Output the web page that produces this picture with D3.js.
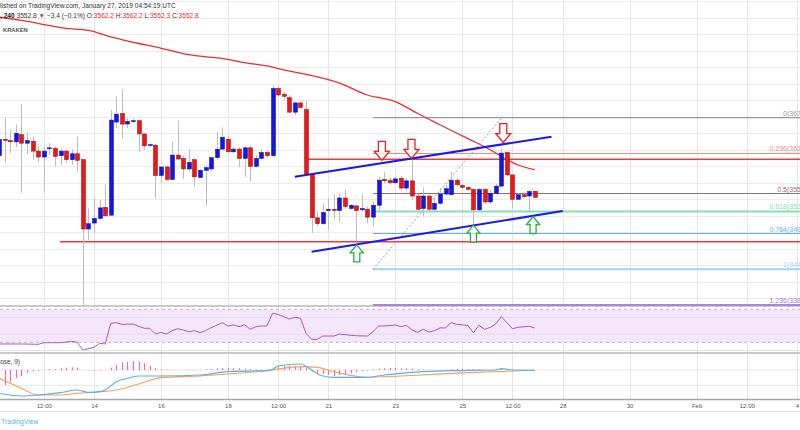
<!DOCTYPE html>
<html>
<head>
<meta charset="utf-8">
<script src="https://cdn.jsdelivr.net/npm/d3@7"></script>
<style>
  body { margin: 0; background: #fff; }
  svg { display: block; font-family: "Liberation Sans", Arial, sans-serif; }
</style>
</head>
<body>
<svg id="chart" width="800" height="430"></svg>
<script>
// 4h bars, first one on screen opens Jan 11 04:00 UTC
const barStart = Date.UTC(2019, 0, 11, 4);
const barStep = 4 * 3600 * 1000;

const opens = [3616,3641,3639,3637,3648,3635,3638,3623,3614,3627,
  3627,3616,3623,3610,3619,3610,3505,3514,3521,3538,
  3526,3667,3680,3664,3668,3669,3649,3632,3632,3586,
  3599,3580,3617,3612,3596,3610,3583,3594,3596,3613,
  3626,3641,3622,3626,3612,3628,3600,3612,3621,3616,
  3718,3709,3704,3682,3696,3686,3588,3522,3513,3533,
  3535,3533,3552,3536,3540,3534,3535,3523,3541,3580,
  3579,3575,3582,3567,3578,3555,3536,3555,3535,3544,
  3558,3557,3579,3571,3568,3565,3534,3565,3546,3559,
  3570,3621,3587,3550,3557,3555,3562.2];
const highs = [3646,3673,3656,3663,3694,3651,3645,3630,3630,3635,
  3630,3627,3626,3625,3645,3612,3536,3552,3549,3572,
  3685,3706,3717,3673,3672,3670,3649,3635,3634,3599,
  3601,3637,3669,3617,3626,3613,3596,3601,3614,3652,
  3659,3646,3629,3629,3631,3631,3617,3625,3625,3723,
  3722,3713,3708,3698,3698,3699,3588,3531,3544,3552,
  3557,3559,3565,3543,3541,3557,3539,3546,3584,3592,
  3582,3584,3585,3582,3611,3558,3568,3557,3553,3567,
  3572,3592,3582,3573,3570,3567,3567,3567,3564,3573,
  3627,3622,3588,3560,3561,3564,3562.2];
const lows = [3610,3606,3620,3629,3560,3619,3610,3607,3563,3617,
  3601,3602,3605,3602,3592,3380,3488,3499,3519,3524,
  3525,3658,3643,3658,3666,3622,3625,3629,3551,3575,
  3578,3579,3610,3581,3593,3570,3582,3540,3593,3610,
  3625,3620,3620,3599,3584,3577,3598,3610,3613,3614,
  3705,3701,3681,3678,3687,3587,3499,3509,3511,3504,
  3519,3515,3536,3534,3486,3531,3514,3509,3532,3574,
  3572,3573,3564,3564,3549,3529,3524,3532,3531,3542,
  3555,3555,3570,3566,3564,3511,3531,3543,3543,3557,
  3569,3585,3536,3549,3553,3531,3552.3];
const closes = [3641,3639,3637,3650,3635,3639,3623,3614,3623,3628,
  3615,3623,3610,3619,3609,3505,3513,3521,3537,3525,
  3670,3679,3664,3668,3669,3649,3631,3633,3586,3599,
  3580,3617,3611,3596,3606,3584,3594,3598,3613,3626,
  3644,3622,3626,3612,3628,3600,3612,3621,3616,3718,
  3708,3706,3682,3696,3689,3588,3522,3513,3530,3535,
  3533,3552,3539,3541,3533,3536,3523,3541,3579,3578,
  3575,3581,3567,3578,3555,3535,3555,3535,3544,3558,
  3566,3579,3572,3568,3565,3534,3565,3546,3559,3570,
  3620,3587,3550,3557,3554,3562,3552.8];

// red moving average, read at a few bars
const maIdx = [0, 4, 12, 16, 20, 25, 28, 34, 41, 44, 48, 51, 54, 61, 66, 71, 75, 79, 84, 88, 91, 93, 96];
const maVal = [3826, 3821, 3809, 3806, 3796, 3786, 3781, 3769, 3762, 3757, 3752, 3746, 3741, 3726, 3708, 3698, 3680, 3663, 3642, 3625, 3610, 3602, 3595];

// RSI (14)
const rsiIdx = [0, 4, 7, 8, 11, 13, 14, 15, 17, 18,
  19, 20, 21, 22, 24, 26, 27, 28, 29, 30,
  31, 32, 33, 34, 35, 36, 37, 38, 40, 41,
  42, 43, 44, 45, 46, 47, 48, 49, 50, 52,
  53, 54, 55, 56, 57, 58, 60, 61, 62, 64,
  66, 67, 68, 69, 71, 72, 73, 74, 75, 76,
  77, 78, 79, 80, 81, 82, 83, 84, 85, 86,
  87, 88, 89, 90, 91, 92, 93, 94, 95, 96];
const rsiVal = [28, 28, 27.6, 29.5, 29.5, 31.2, 30, 20.7, 24, 28.8,
  28, 53, 53.8, 51.8, 52.2, 47, 47, 40.1, 42.1, 40.1,
  44.1, 46.5, 44.9, 42.8, 44.1, 41.6, 44.1, 47.7, 53.8, 49.8,
  51, 48.9, 51.3, 45.8, 48.9, 49.8, 49.8, 65.2, 63.9, 58.2,
  60.3, 59.1, 40.9, 33.6, 33.6, 37.6, 37.6, 40.1, 39.2, 38,
  37.6, 42.8, 49.8, 49.8, 51, 48.9, 50.6, 45, 42.1, 45.8,
  42.5, 44, 47.5, 47.5, 53.8, 51.8, 51.2, 50.5, 41.6, 50.7,
  45.8, 48, 52.2, 61.1, 53.8, 46.5, 48.2, 48.8, 49.4, 47.3];

// MACD (12, 26, close, 9)
const macdIdx = [0, 4, 7, 11, 14, 16, 18, 19, 21, 23, 25, 29, 36, 41, 48, 49, 50, 54, 56, 58, 60, 66, 69, 72, 81, 89, 90, 92, 96];
const macdVal = [-35, -39, -37.5, -34, -30, -33.5, -32.5, -30, -17.5, -12.5, -9, -9, -7.5, -2.5, -1, 1, 6, 9, 0, -9, -11, -11, -7.5, -5, -1, 0, 2, 0, -0.5];
const signalIdx = [0, 4, 7, 11, 14, 18, 21, 25, 29, 36, 41, 48, 54, 57, 60, 66, 72, 84, 96];
const signalVal = [-12.5, -27.5, -37.5, -37.5, -35, -33, -30, -21, -11.5, -9, -6, -1, 5, 4, -2.5, -11, -9, -4, -0.5];
const histVal = [-24, -22.5, -17.5, -12.5, -9, -4, -2, -1, 0, 1.5,
  1.5, 2.5, 3.5, 4, 3.5, 0, -0.5, -1, -1, 0,
  3.5, 7.5, 11.5, 12.5, 13.5, 12.5, 10, 6, 2.5, 1,
  0.5, 0.5, 0, 0, 0.5, 0.5, 0.5, 1, 1.5, 2.5,
  3, 3, 2.5, 2.5, 2, 1.5, 1, 0.5, 0.5, 2.5,
  5, 6, 6.5, 6, 5, 3, -2.5, -4, -6, -7.5,
  -9, -7.5, -6, -5, -3, -1.5, -0.5, 1, 2, 2.5,
  3, 3, 2.5, 2.5, 2, 1.5, 1, 0.5, 0, 0.5,
  0.5, 1, 1.5, 1.5, 1.5, 1.5, 1, 0.5, 0, 0.5,
  1.5, 1.5, 1, 0.5, 0.5, 0, 0];

// time axis
const tickDates = ["2019-01-12T12:00:00Z", "2019-01-14T00:00:00Z", "2019-01-16T00:00:00Z", "2019-01-18T00:00:00Z",
  "2019-01-19T12:00:00Z", "2019-01-21T00:00:00Z", "2019-01-23T00:00:00Z", "2019-01-25T00:00:00Z",
  "2019-01-26T12:00:00Z", "2019-01-28T00:00:00Z", "2019-01-30T00:00:00Z", "2019-02-01T00:00:00Z",
  "2019-02-02T12:00:00Z", "2019-02-04T00:00:00Z"].map(s => new Date(s));
const tickLabels = ["12:00", "14", "16", "18", "12:00", "21", "23", "25", "12:00", "28", "30", "Feb", "12:00", "4"];

// drawings: fib retracement, horizontal levels, channel, arrows
const fibLevels = [0, 0.236, 0.5, 0.618, 0.764, 1, 1.236];
const fibHigh = 3673.6, fibLow = 3444.0;
const fibLowIdx = 67, fibHighIdx = 90.1;
const levelPrice = [3485.8, 3610.7];
const levelStartIdx = [10.9, 55.3];
const channelIdx = [[53, 99], [56, 101]];
const channelPrice = [[3584.3, 3644.9], [3470.6, 3532.3]];
const downArrowIdx = [68.6, 73.9, 90.35];
const downArrowPrice = [3609, 3612, 3636];
const upArrowIdx = [64.1, 85, 95.7];
const upArrowPrice = [3481, 3511, 3524];

const fibColors = ["#9a9a9a", "#ec8a8a", "#8c6f7c", "#86e0b8", "#62b0ea", "#a6d2f2", "#ad84dc"];

const svg = d3.select("#chart");

// scales
const x = d3.scaleUtc()
    .domain([new Date(Date.UTC(2019, 0, 14)), new Date(Date.UTC(2019, 1, 4))])
    .range([94, 797]);
const bx = i => x(new Date(barStart + i * barStep));
const y = d3.scaleLinear().domain([3388.4, 3851.9]).range([306, 0]);
const rsiY = d3.scaleLinear().domain([20.7, 72.8]).range([350, 307]);
const macdY = d3.scaleLinear().domain([-43.5, 25.5]).range([399, 353]);

const defs = svg.append("defs");
defs.append("clipPath").attr("id", "clipMain").append("rect").attr("x", 0).attr("y", 0).attr("width", 800).attr("height", 306);
defs.append("clipPath").attr("id", "clipRsi").append("rect").attr("x", 0).attr("y", 307).attr("width", 800).attr("height", 43);
defs.append("clipPath").attr("id", "clipMacd").append("rect").attr("x", 0).attr("y", 353).attr("width", 800).attr("height", 46);

// grid
const grid = svg.append("g");
grid.selectAll(".vg").data(tickDates).enter().append("line")
    .attr("x1", d => Math.round(x(d)) + 0.5).attr("x2", d => Math.round(x(d)) + 0.5)
    .attr("y1", 0).attr("y2", 399)
    .attr("stroke", "#e6e6e6");
grid.selectAll(".hg").data(d3.range(3400, 3851, 25)).enter().append("line")
    .attr("x1", 0).attr("x2", 800)
    .attr("y1", d => Math.round(y(d)) + 0.5).attr("y2", d => Math.round(y(d)) + 0.5)
    .attr("stroke", "#ebebeb");

// ----- main pane -----
const main = svg.append("g").attr("clip-path", "url(#clipMain)");

// fib retracement
const fibPrice = l => fibHigh - l * (fibHigh - fibLow);
main.selectAll(".fib").data(fibLevels).enter().append("line")
    .attr("x1", bx(fibLowIdx)).attr("x2", 800)
    .attr("y1", d => y(fibPrice(d))).attr("y2", d => y(fibPrice(d)))
    .attr("stroke", (d, i) => fibColors[i])
    .attr("stroke-width", (d, i) => (i >= 3 && i !== 4) ? 2 : 1.2);
// labels sit at the far right end of the levels, past the cropped edge
main.selectAll(".fibl").data(fibLevels).enter().append("text")
    .attr("x", 813).attr("y", d => y(fibPrice(d)) - 2)
    .attr("text-anchor", "end")
    .attr("font-size", 7)
    .attr("fill", (d, i) => fibColors[i])
    .text(d => `${d}(${fibPrice(d).toFixed(1)})`);
main.append("line")
    .attr("x1", bx(fibLowIdx)).attr("y1", y(fibLow))
    .attr("x2", bx(fibHighIdx)).attr("y2", y(fibHigh))
    .attr("stroke", "#a0a0a0").attr("stroke-dasharray", "2,2");

// horizontal red levels
main.selectAll(".lvl").data(levelPrice).enter().append("line")
    .attr("x1", (d, i) => bx(levelStartIdx[i])).attr("x2", 800)
    .attr("y1", d => y(d)).attr("y2", d => y(d))
    .attr("stroke", "#f23a3a").attr("stroke-width", 1.4);

// moving average
main.append("path")
    .datum(maIdx.map((d, i) => [d, maVal[i]]))
    .attr("fill", "none").attr("stroke", "#f22c2c").attr("stroke-width", 1.3)
    .attr("d", d3.line().x(d => bx(d[0])).y(d => y(d[1])).curve(d3.curveMonotoneX));

// candles
const bars = d3.range(opens.length);
main.selectAll(".wick").data(bars).enter().append("line")
    .attr("x1", i => Math.round(bx(i)) + 0.5).attr("x2", i => Math.round(bx(i)) + 0.5)
    .attr("y1", i => y(highs[i])).attr("y2", i => y(lows[i]))
    .attr("stroke", "#bdbdbd");
main.selectAll(".body").data(bars).enter().append("rect")
    .attr("x", i => Math.round(bx(i)) - 1.5)
    .attr("width", 4)
    .attr("y", i => y(Math.max(opens[i], closes[i])))
    .attr("height", i => Math.max(1, Math.abs(y(opens[i]) - y(closes[i]))))
    .attr("fill", i => closes[i] >= opens[i] ? "#1414f0" : "#f01414")
    .attr("stroke", i => closes[i] >= opens[i] ? "#10108a" : "#8a1010")
    .attr("stroke-width", 0.5);

// channel lines
main.selectAll(".chan").data(channelIdx).enter().append("line")
    .attr("x1", d => bx(d[0])).attr("x2", d => bx(d[1]))
    .attr("y1", (d, i) => y(channelPrice[i][0])).attr("y2", (d, i) => y(channelPrice[i][1]))
    .attr("stroke", "#1a1aee").attr("stroke-width", 2);

// hollow block arrows, tip at the origin
const arrowDown = "M0,0 L7.5,-9 L3.5,-9 L3.5,-19 L-3.5,-19 L-3.5,-9 L-7.5,-9 Z";
const arrowUp = "M0,0 L6.5,8 L3,8 L3,17 L-3,17 L-3,8 L-6.5,8 Z";
main.selectAll(".adn").data(downArrowIdx).enter().append("path")
    .attr("transform", (d, i) => `translate(${bx(d)},${y(downArrowPrice[i])})`)
    .attr("d", arrowDown)
    .attr("fill", "rgba(255,255,255,0.7)").attr("stroke", "#f02020").attr("stroke-width", 1.3);
main.selectAll(".aup").data(upArrowIdx).enter().append("path")
    .attr("transform", (d, i) => `translate(${bx(d)},${y(upArrowPrice[i])})`)
    .attr("d", arrowUp)
    .attr("fill", "rgba(255,255,255,0.7)").attr("stroke", "#28b040").attr("stroke-width", 1.3);

// ----- RSI pane -----
const rsi = svg.append("g").attr("clip-path", "url(#clipRsi)");
rsi.append("rect")
    .attr("x", 0).attr("width", 800)
    .attr("y", rsiY(70)).attr("height", rsiY(30) - rsiY(70))
    .attr("fill", "#f4e7fb");
rsi.selectAll(".rg").data([60, 40]).enter().append("line")
    .attr("x1", 0).attr("x2", 800)
    .attr("y1", d => rsiY(d)).attr("y2", d => rsiY(d))
    .attr("stroke", "#e6dcea");
rsi.selectAll(".rb").data([70, 30]).enter().append("line")
    .attr("x1", 0).attr("x2", 800)
    .attr("y1", d => rsiY(d)).attr("y2", d => rsiY(d))
    .attr("stroke", "#c2b2c8").attr("stroke-dasharray", "3,3");
rsi.append("path")
    .datum(rsiIdx.map((d, i) => [d, rsiVal[i]]))
    .attr("fill", "none").attr("stroke", "#ad58c8").attr("stroke-width", 1)
    .attr("d", d3.line().x(d => bx(d[0])).y(d => rsiY(d[1])));

// ----- MACD pane -----
const macd = svg.append("g").attr("clip-path", "url(#clipMacd)");
macd.selectAll(".mg").data([0, -23]).enter().append("line")
    .attr("x1", 0).attr("x2", 800)
    .attr("y1", d => macdY(d)).attr("y2", d => macdY(d))
    .attr("stroke", "#e6e6e6");
macd.selectAll(".hist").data(histVal).enter().append("line")
    .attr("x1", (d, i) => Math.round(bx(i)) + 0.5).attr("x2", (d, i) => Math.round(bx(i)) + 0.5)
    .attr("y1", macdY(0)).attr("y2", d => macdY(d))
    .attr("stroke", "#f06aa6").attr("stroke-width", 1.2);
macd.append("path")
    .datum(signalIdx.map((d, i) => [d, signalVal[i]]))
    .attr("fill", "none").attr("stroke", "#f6a25a").attr("stroke-width", 1.1)
    .attr("d", d3.line().x(d => bx(d[0])).y(d => macdY(d[1])).curve(d3.curveMonotoneX));
macd.append("path")
    .datum(macdIdx.map((d, i) => [d, macdVal[i]]))
    .attr("fill", "none").attr("stroke", "#5ab0f0").attr("stroke-width", 1.1)
    .attr("d", d3.line().x(d => bx(d[0])).y(d => macdY(d[1])).curve(d3.curveMonotoneX));
svg.append("text")
    .attr("x", 20).attr("y", 364).attr("text-anchor", "end")
    .attr("font-size", 6.5).attr("fill", "#444")
    .text("MACD (12, 26, close, 9)");

// pane borders
const seps = [[306, "#b8b8b8", 1.5], [350.5, "#e2e2e2", 1], [353, "#b8b8b8", 1.5], [399.5, "#a8a8a8", 1.3], [411.5, "#e4e4e4", 1]];
svg.selectAll(".sep").data(seps).enter().append("line")
    .attr("x1", 0).attr("x2", 800)
    .attr("y1", d => d[0]).attr("y2", d => d[0])
    .attr("stroke", d => d[1]).attr("stroke-width", d => d[2]);
// the 1.236 fib level sits on the pane border
svg.append("line")
    .attr("x1", bx(fibLowIdx)).attr("x2", 800)
    .attr("y1", y(fibPrice(1.236))).attr("y2", y(fibPrice(1.236)))
    .attr("stroke", fibColors[6]).attr("stroke-width", 2);

// time axis
const xAxis = svg.append("g")
    .attr("transform", "translate(0,401)")
    .call(d3.axisBottom(x).tickValues(tickDates).tickFormat((d, i) => tickLabels[i]).tickSize(0).tickPadding(3));
xAxis.select(".domain").remove();
xAxis.selectAll("text")
    .attr("font-family", "'Liberation Sans', Arial, sans-serif")
    .attr("font-size", 6).attr("fill", "#555");

// header
svg.append("text")
    .attr("x", 0).attr("y", 8)
    .attr("font-size", 6.6).attr("fill", "#333")
    .text("lished on TradingView.com, January 27, 2019 04:54:19 UTC");
const head = svg.append("text").attr("x", 0).attr("y", 17.5).attr("font-size", 6.6).attr("fill", "#333");
const parts = [[", 240", "#222", "bold"], [" 3552.8 ", "#333"], ["\u25BC", "#e53030"], [" \u22123.4 (\u22120.1%) ", "#333"],
  ["O:", "#333"], ["3562.2", "#e53030"], [" H:", "#333"], ["3562.2", "#e53030"],
  [" L:", "#333"], ["3552.3", "#e53030"], [" C:", "#333"], ["3552.8", "#e53030"]];
parts.forEach(p => {
    head.append("tspan").attr("fill", p[1]).attr("font-weight", p[2] || null).text(p[0]);
});
svg.append("text")
    .attr("x", 3).attr("y", 31.5)
    .attr("font-size", 5.8).attr("font-weight", "bold").attr("fill", "#555")
    .text("KRAKEN");

svg.append("text")
    .attr("x", 1).attr("y", 423.5)
    .attr("font-size", 6.8).attr("fill", "#5db4e8")
    .text("TradingView");
</script>
</body>
</html>
